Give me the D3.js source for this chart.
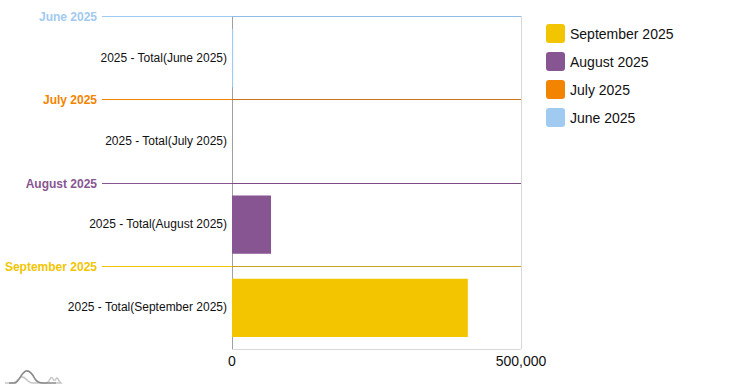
<!DOCTYPE html>
<html>
<head>
<meta charset="utf-8">
<script src="https://cdn.jsdelivr.net/npm/d3@7"></script>
<style>
body{margin:0;background:#fff;}
text{font-family:"Liberation Sans",Arial,sans-serif;}
</style>
</head>
<body>
<svg id="c" width="753" height="388"></svg>
<script>
const groups = ["June 2025","July 2025","August 2025","September 2025"];
const categories = ["2025 - Total(June 2025)","2025 - Total(July 2025)","2025 - Total(August 2025)","2025 - Total(September 2025)"];
const values = [2000, 0, 67500, 408000];
const colors = ["#a1caf1","#f38400","#875692","#f2c500"];
const darkColors = ["#8fbce8","#c87418","#7a4a86","#c9a420"];
const xTicks = [0, 500000];
const legendOrder = ["September 2025","August 2025","July 2025","June 2025"];

(function(){
const svg = d3.select("#c");
const pLeft = 232, pRight = 521, pTop = 16, pBottom = 349;
const x = d3.scaleLinear().domain([0, 500000]).range([pLeft, pRight]);
const yg = d3.scaleBand().domain(groups).range([pTop, pBottom]);

// plot borders
svg.append("line").attr("x1", pRight + 0.5).attr("x2", pRight + 0.5).attr("y1", pTop).attr("y2", pBottom).attr("stroke", "#d9d9d9").attr("stroke-width", 1);
svg.append("line").attr("x1", pLeft).attr("x2", pRight).attr("y1", pBottom + 0.5).attr("y2", pBottom + 0.5).attr("stroke", "#d9d9d9").attr("stroke-width", 1);

// axis line
svg.append("line").attr("x1", pLeft + 0.5).attr("x2", pLeft + 0.5).attr("y1", pTop).attr("y2", pBottom).attr("stroke", "#a0a0a0").attr("stroke-width", 1);

// bars
groups.forEach((g, i) => {
  const y0 = yg(g), h = yg.bandwidth();
  const bh = h * 0.7;
  const by = y0 + (h - bh) / 2 + 0.5;
  svg.append("rect").attr("x", x(0)).attr("y", by).attr("width", Math.max(0, x(values[i]) - x(0))).attr("height", bh).attr("fill", colors[i]);
  svg.append("text").attr("x", 227).attr("y", y0 + h / 2 + 4).attr("text-anchor", "end").attr("font-size", 12).attr("fill", "#111").text(categories[i]);
});

// group separators
groups.forEach((g, i) => {
  const yy = Math.round(yg(g)) + 0.5;
  svg.append("line").attr("x1", 102).attr("x2", pLeft).attr("y1", yy).attr("y2", yy).attr("stroke", colors[i]).attr("stroke-width", 1.2);
  svg.append("line").attr("x1", pLeft).attr("x2", pRight).attr("y1", yy).attr("y2", yy).attr("stroke", darkColors[i]).attr("stroke-width", 1.2);
  svg.append("text").attr("x", 97).attr("y", yy + 4).attr("text-anchor", "end").attr("font-size", 12).attr("font-weight", "bold").attr("fill", colors[i]).text(g);
});

// x ticks
svg.selectAll(".xt").data(xTicks).enter().append("text")
  .attr("x", d => x(d)).attr("y", 366).attr("text-anchor", "middle").attr("font-size", 14).attr("fill", "#111")
  .text(d => d3.format(",")(d));

// legend
legendOrder.forEach((g, i) => {
  const c = colors[groups.indexOf(g)];
  const ly = 24 + i * 28;
  svg.append("rect").attr("x", 546).attr("y", ly).attr("width", 19).attr("height", 19).attr("rx", 3).attr("fill", c);
  svg.append("text").attr("x", 570).attr("y", ly + 14.5).attr("font-size", 14).attr("fill", "#111").text(g);
});

// logo
const lg = svg.append("g").attr("transform", "translate(5,370)");
lg.append("path").attr("d", "M0,13 L8,13 C12,13 13,8 16,7 C19,6 21,9 23,11 C25,13 26,13 28,13 L40,13 C42,13 43,13 45,9 C46,7 47,7 48,9 C49,11 50,11 51,9 C52,7 53,8 54,11 L56,13 L51,13").attr("fill", "none").attr("stroke", "#c8c8c8").attr("stroke-width", 1.6);
lg.append("path").attr("d", "M4,13 L10,13 C14,12 16,3 21,1 C25,0 28,5 30,9 C32,12 34,13 38,13 L51,13").attr("fill", "none").attr("stroke", "#8a8a8a").attr("stroke-width", 1.6);
})();
</script>
</body>
</html>
